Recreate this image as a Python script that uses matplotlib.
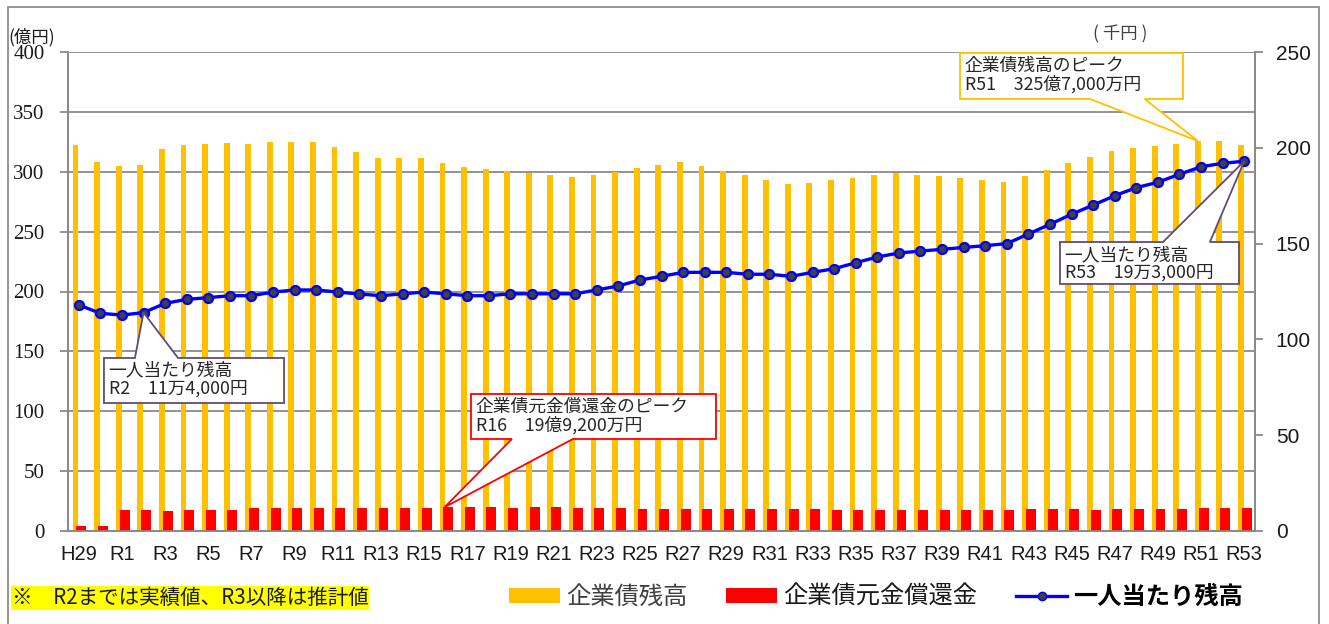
import matplotlib
matplotlib.use("Agg")
import matplotlib.pyplot as plt
from matplotlib.patches import Polygon, Rectangle, Patch
from matplotlib.lines import Line2D
import numpy as np

plt.rcParams["font.family"] = ["Noto Sans CJK JP", "DejaVu Sans"]

# -----------------------------------
# DATA
# -----------------------------------

years = ["H29", "H30"] + [f"R{i}" for i in range(1, 54)]

# 企業債残高 (億円)
debt = [
    322, 308, 305, 305.5, 319, 322, 323, 324, 323, 324.6,
    325.0, 324.8, 320.7, 316.5, 311.2, 311.8, 311.8, 307.6, 304, 302,
    300.4, 298.7, 297, 295.6, 297.3, 300, 302.9, 305.6, 308.1, 304.8,
    300.9, 297.3, 293.4, 289.5, 290.6, 292.8, 294.8, 297, 298.7, 297.6,
    296.5, 294.8, 293.1, 291.5, 296.5, 301.7, 307, 312.3, 317.3, 319.8,
    321.8, 323.5, 325.7, 325.5, 322.3,
]

# 企業債元金償還金 (億円)
repay = [
    4.0, 4.2, 17.3, 17.3, 17.1, 17.3, 17.5, 17.8, 19.1, 19.1,
    19.1, 19.1, 19.1, 18.9, 19.1, 19.4, 19.6, 19.92, 19.65, 19.65,
    19.4, 19.65, 19.65, 19.4, 19.1, 18.9, 18.6, 18.3, 18.3, 18.3,
    18.6, 18.3, 18.6, 18.6, 18.3, 17.8, 17.5, 17.5, 17.5, 17.2,
    17.2, 17.8, 17.8, 17.8, 18.0, 18.0, 18.3, 17.8, 18.0, 18.3,
    18.6, 18.6, 18.9, 19.1, 19.1,
]

# 一人当たり残高 (千円)
per_capita = [
    118, 113.6, 112.7, 114, 118.8, 120.9, 121.8, 122.8, 122.8, 124.7,
    125.8, 125.8, 124.7, 123.7, 122.8, 123.8, 124.7, 123.8, 122.8, 122.8,
    123.8, 123.8, 123.8, 123.8, 125.8, 127.9, 131, 132.9, 135, 135,
    135, 134, 134, 132.9, 135, 136.9, 140, 143, 145.1, 146.1,
    147, 148, 148.9, 150, 155, 160.1, 165.3, 170.1, 175, 179.2,
    182, 186.2, 190.1, 191.9, 193,
]

left_ticks = list(range(0, 401, 50))
right_ticks = list(range(0, 251, 50))

x = np.arange(len(years))

# -----------------------------------
# PLOT
# -----------------------------------

W, H = 1329, 624
fig = plt.figure(figsize=(W / 100, H / 100), dpi=100)

# outer frame
fig.add_artist(Rectangle((8 / W, -0.05), (1319 - 8) / W, 1.05 - 7 / H,
                         transform=fig.transFigure, fill=False,
                         edgecolor="#8c8c8c", linewidth=1.3))

ax = fig.add_axes([68 / W, (H - 531) / H, 1187 / W, 479 / H])
ax2 = ax.twinx()

grid_col = "#8a8a8a"

ax.bar(x - 0.15, debt, width=0.27, color="#FFC000", zorder=2)
ax.bar(x + 0.12, repay, width=0.46, color="#FF0000", zorder=3)

ax2.plot(x, per_capita, color="#0000FF", linewidth=2.4, marker="o",
         markersize=6.5, markerfacecolor="#404040", markeredgecolor="#0000FF",
         markeredgewidth=1.6, zorder=5)

ax.set_xlim(-0.5, len(years) - 0.5)
ax.set_ylim(0, 400)
ax2.set_ylim(0, 250)

ax.set_yticks(left_ticks, labels=[str(v) for v in left_ticks],
              fontfamily="Liberation Serif", fontsize=15, color="#1a1a1a")
ax2.set_yticks(right_ticks, labels=[str(v) for v in right_ticks],
               fontfamily="Liberation Sans", fontsize=15, color="#1a1a1a")
ax.grid(axis="y", color=grid_col, linewidth=1.3, zorder=0)
ax.set_axisbelow(True)

ax.set_xticks(x[::2], labels=years[::2], fontfamily="Liberation Sans",
              fontsize=14.5, color="#1a1a1a")
ax.tick_params(axis="x", length=0, pad=10)
ax.tick_params(axis="y", length=6, width=1.3, color=grid_col, pad=11)
ax2.tick_params(axis="y", length=6, width=1.3, color=grid_col, pad=9)

for a in (ax, ax2):
    a.spines["top"].set_visible(False)
    for s in ("left", "right", "bottom"):
        a.spines[s].set_color(grid_col)
        a.spines[s].set_linewidth(1.3)

fig.text(8 / W, 1 - 37 / H, "(億円)", fontsize=12.5, va="center", ha="left",
         color="#1a1a1a")
fig.text(1120 / W, 1 - 34 / H, "( 千円 )", fontsize=12.5, va="center",
         ha="center", color="#404040")


# -----------------------------------
# CALLOUTS
# -----------------------------------

def callout(axis, tip, box, base, text, edge, side="bottom"):
    to_axes = axis.transData + axis.transAxes.inverted()
    tx, ty = to_axes.transform(tip)
    x0, y0, x1, y1 = box
    b0, b1 = base
    if side == "bottom":
        pts = [(x0, y0), (b0, y0), (tx, ty), (b1, y0), (x1, y0),
               (x1, y1), (x0, y1)]
    else:
        pts = [(x0, y0), (x1, y0), (x1, y1), (b1, y1), (tx, ty),
               (b0, y1), (x0, y1)]
    ax2.add_patch(Polygon(pts, closed=True, transform=ax2.transAxes,
                          facecolor="white", edgecolor=edge, linewidth=1.3,
                          zorder=10, clip_on=False))
    ax2.text(x0 + 0.004, y1 - 0.008, text, transform=ax2.transAxes,
             fontsize=12.8, va="top", ha="left", color="#262626",
             linespacing=1.0, zorder=11)


callout(ax, (52 - 0.15, debt[52]), (0.7515, 0.902, 0.9393, 0.998),
        (0.861, 0.907), "企業債残高のピーク\nR51　325億7,000万円", "#FFC000")
callout(ax2, (54, per_capita[54]), (0.8357, 0.5157, 0.9865, 0.6033),
        (0.9225, 0.962), "一人当たり残高\nR53　19万3,000円", "#604A7B",
        side="top")
callout(ax2, (3, per_capita[3]), (0.0303, 0.2672, 0.182, 0.3612),
        (0.0564, 0.0927), "一人当たり残高\nR2　11万4,000円", "#604A7B",
        side="top")
callout(ax, (17 - 0.05, repay[17]), (0.3395, 0.1921, 0.5459, 0.286),
        (0.374, 0.4254), "企業債元金償還金のピーク\nR16　19億9,200万円",
        "#FF0000")

# -----------------------------------
# LEGEND / NOTE
# -----------------------------------

handles = [
    Patch(facecolor="#FFC000", edgecolor="none"),
    Patch(facecolor="#FF0000", edgecolor="none"),
    Line2D([], [], color="#0000FF", linewidth=2.4, marker="o", markersize=6,
           markerfacecolor="#404040", markeredgecolor="#0000FF"),
]
leg = fig.legend(handles, ["企業債残高", "企業債元金償還金", "一人当たり残高"],
                 loc="center", bbox_to_anchor=(876 / W, 1 - 597 / H), ncol=3,
                 frameon=False, fontsize=17.5, handlelength=2.1,
                 handleheight=0.55, handletextpad=0.25, columnspacing=1.6)
for t, c in zip(leg.get_texts(), ["#404040", "#1a1a1a", "#000000"]):
    t.set_color(c)
leg.get_texts()[2].set_fontweight("semibold")

fig.text(12 / W, 1 - 598 / H, "※　R2までは実績値、R3以降は推計値",
         fontsize=14.8, va="center", ha="left", color="#1a1a1a",
         bbox=dict(facecolor="#FFFF00", edgecolor="none", pad=0.5))

plt.savefig("out.png", dpi=100)
plt.close()
